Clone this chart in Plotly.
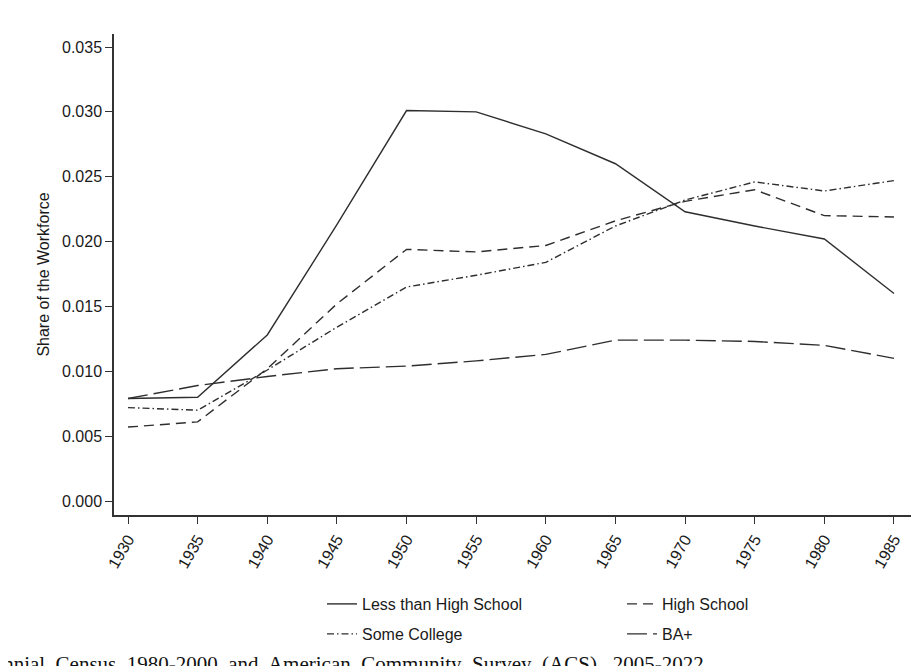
import plotly.graph_objects as go

years = [1930, 1935, 1940, 1945, 1950, 1955, 1960, 1965, 1970, 1975, 1980, 1985]
less_hs = [0.0079, 0.0080, 0.0128, 0.0213, 0.0301, 0.0300, 0.0283, 0.0260, 0.0223, 0.0212, 0.0202, 0.0160]
high_school = [0.0057, 0.0061, 0.0102, 0.0152, 0.0194, 0.0192, 0.0197, 0.0216, 0.0231, 0.0240, 0.0220, 0.0219]
some_college = [0.0072, 0.0070, 0.0101, 0.0134, 0.0165, 0.0174, 0.0184, 0.0212, 0.0232, 0.0246, 0.0239, 0.0247]
ba_plus = [0.0079, 0.0089, 0.0096, 0.0102, 0.0104, 0.0108, 0.0113, 0.0124, 0.0124, 0.0123, 0.0120, 0.0110]

y_ticks = [0.0, 0.005, 0.010, 0.015, 0.020, 0.025, 0.030, 0.035]
y_tick_labels = ["0.000", "0.005", "0.010", "0.015", "0.020", "0.025", "0.030", "0.035"]

source_words = ["Decennial", "Census", "1980-2000", "and", "American", "Community",
                "Survey", "(ACS),", "2005-2022"]

series = [
    ("Less than High School", less_hs, "solid", "legend"),
    ("High School", high_school, "10px,6px", "legend"),
    ("Some College", some_college, "7px,3px,1.5px,3px", "legend2"),
    ("BA+", ba_plus, "20px,6px", "legend2"),
]

fig = go.Figure()
for name, vals, dash, leg in series:
    fig.add_trace(go.Scatter(
        x=years, y=vals, mode="lines", name=name, legend=leg,
        line=dict(color="#2e2e2e", width=1.4, dash=dash),
    ))

font_family = "Liberation Sans, Arial, sans-serif"
legend_common = dict(
    orientation="h", xanchor="left", yanchor="middle",
    entrywidth=255, font=dict(size=16, family=font_family, color="#1a1a1a"),
    bgcolor="rgba(0,0,0,0)", borderwidth=0,
)

L, T, B = 106, 26, 507
W = 919 - L
H = B - T

fig.update_layout(
    width=919, height=666,
    paper_bgcolor="white", plot_bgcolor="white",
    margin=dict(l=L, r=0, t=T, b=666 - B, autoexpand=False),
    font=dict(family=font_family, size=16, color="#1a1a1a"),
    showlegend=True,
    legend=dict(x=(314 - L) / W, y=(B - 596) / H, **legend_common),
    legend2=dict(x=(314 - L) / W, y=(B - 626) / H, **legend_common),
    xaxis=dict(
        range=[1928.995, 1987.37], tickmode="array", tickvals=years,
        ticktext=[str(y) for y in years], tickangle=-60, automargin=False,
        showgrid=False, zeroline=False, showline=True, linecolor="#333333",
        linewidth=1.5, ticks="outside", ticklen=7, tickcolor="#333333",
        tickfont=dict(size=16),
    ),
    yaxis=dict(
        range=[-0.001079, 0.036002], tickmode="array", tickvals=y_ticks,
        ticktext=y_tick_labels, showgrid=False, zeroline=False, automargin=False,
        showline=True, linecolor="#333333", linewidth=1.5, ticks="outside",
        ticklen=7, tickcolor="#333333", tickfont=dict(size=16),
        title=dict(text="Share of the Workforce", font=dict(size=16), standoff=8),
    ),
)

fig.add_annotation(
    xref="paper", yref="paper", x=(698 - L) / W, y=(B - 642) / H,
    xanchor="right", yanchor="top", showarrow=False,
    text="\u00a0 ".join(source_words),
    font=dict(family="Liberation Serif, Times New Roman, serif", size=21, color="#111111"),
)

fig.write_html("out.html")
